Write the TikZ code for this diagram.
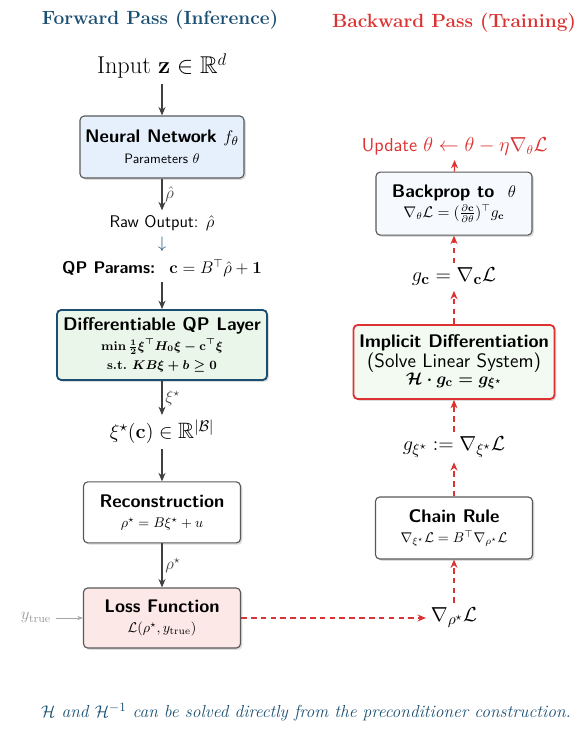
\documentclass[tikz,border=0pt]{standalone}
\usepackage{amsmath,amssymb}
\usetikzlibrary{arrows.meta,shadows}

\definecolor{azulosc}{HTML}{1B4F72}
\definecolor{rojo}{HTML}{DC3232}
\definecolor{fondoazul}{HTML}{E6F0FC}
\definecolor{fondoverde}{HTML}{EAF6EA}
\definecolor{fondoverde2}{HTML}{F2FAF2}
\definecolor{fondorosa}{HTML}{FDE8E8}
\definecolor{fondoblanco}{HTML}{F6F9FE}

% tamanos de letra
\newcommand{\titcaja}[1]{{\fontsize{13}{15.6}\selectfont\bfseries\sffamily #1}}
\newcommand{\grande}{\fontsize{15.8}{19}\selectfont}
\newcommand{\medio}{\fontsize{10.2}{12.2}\selectfont}

\begin{document}
\begin{tikzpicture}[
    font=\normalsize,
    caja/.style={rectangle, rounded corners=3pt, draw=black!65, line width=0.8pt, align=center, inner sep=3pt,
        drop shadow={opacity=0.28, shadow xshift=1.3pt, shadow yshift=-1.3pt}},
    tit/.style={font=\fontsize{13.6}{16}\selectfont\bfseries},
    etiq/.style={right, font=\large, inner sep=2pt},
    fwd/.style={-{Stealth[length=6pt,width=5pt]}, color=black!75, line width=0.9pt},
    bwd/.style={-{Stealth[length=6pt,width=5pt]}, color=rojo, line width=1pt, dash pattern=on 4pt off 3pt}
]
\useasboundingbox (0,0) rectangle (14.65,18.3);

% ============================================
% TITULOS
% ============================================
\node[tit, text=azulosc] (tforward) at (4.0, 17.8) {Forward Pass (Inference)};
\node[tit, text=rojo] (tbackward) at (11.35, 17.72) {Backward Pass (Training)};

% ============================================
% PASO HACIA ADELANTE
% ============================================

% Entrada
\node (input) at (4.05, 16.65) {\LARGE Input $\mathbf{z} \in \mathbb{R}^d$};

% Red neuronal
\node[caja, fill=fondoazul, minimum width=4.1cm, minimum height=1.55cm] (nn) at (4.05, 14.625)
    {\titcaja{Neural Network $f_\theta$}\\[3pt]{\fontsize{9.7}{11}\selectfont\sffamily Parameters $\theta$}};

% Salida cruda y parametros del QP
\node[font=\large\sffamily] (raw) at (4.05, 12.725) {Raw Output: $\hat{\rho}$};
\node[text=azulosc, inner sep=0pt] (flecha) at (4.05, 12.2) {\large$\downarrow$};
\node (params) at (4.05, 11.6) {{\large\bfseries\sffamily QP Params:}\quad{\large$\mathbf{c} = B^\top\hat{\rho} + \mathbf{1}$}};

% Capa QP
\node[caja, draw=azulosc, line width=1.3pt, fill=fondoverde, minimum width=5.25cm, minimum height=1.75cm] (qp) at (4.05, 9.675)
    {\titcaja{Differentiable QP Layer}\\[2pt]
     {\small\boldmath$\min \tfrac{1}{2}\xi^\top H_0\xi - \mathbf{c}^\top\xi$}\\[2pt]
     {\small\bfseries s.t.\ \boldmath$KB\xi + b \geq 0$}};

% Solucion
\node (xi) at (4.05, 7.5) {\grande$\xi^\star(\mathbf{c}) \in \mathbb{R}^{|\mathcal{B}|}$};

% Reconstruccion
\node[caja, fill=white, minimum width=3.925cm, minimum height=1.525cm] (recon) at (4.05, 5.49)
    {\titcaja{Reconstruction}\\[2pt]{\medio$\rho^\star = B\xi^\star + u$}};

% Perdida
\node[caja, fill=fondorosa, minimum width=3.925cm, minimum height=1.5cm] (loss) at (4.05, 2.85)
    {\titcaja{Loss Function}\\[2pt]{\medio$\mathcal{L}(\rho^\star, y_{\text{true}})$}};
\node[text=gray!80, font=\large] (ytrue) at (0.9, 2.85) {$y_{\text{true}}$};

% Flechas
\draw[fwd] (input) -- (nn);
\draw[fwd] (nn) -- node[etiq] {$\hat{\rho}$} (raw);
\draw[fwd] (params) -- (qp);
\draw[fwd] (qp) -- node[etiq] {$\xi^\star$} (xi);
\draw[fwd] (xi) -- (recon);
\draw[fwd] (recon) -- node[etiq] {$\rho^\star$} (loss);
\draw[-{Stealth[length=4pt]}, gray!70, line width=0.5pt] (ytrue) -- (loss);

% ============================================
% PASO HACIA ATRAS
% ============================================

% Gradiente de la perdida
\node (gradrho) at (11.35, 2.85) {\grande$\nabla_{\rho^\star}\mathcal{L}$};

% Regla de la cadena
\node[caja, fill=white, minimum width=3.925cm, minimum height=1.55cm] (chain) at (11.35, 5.1)
    {\titcaja{Chain Rule}\\[2pt]{\fontsize{10.4}{12.4}\selectfont$\nabla_{\xi^\star}\mathcal{L} = B^\top\nabla_{\rho^\star}\mathcal{L}$}};

\node (gxi) at (11.35, 7.125) {\grande$g_{\xi^\star} := \nabla_{\xi^\star}\mathcal{L}$};

% Diferenciacion implicita
\node[caja, draw=rojo, line width=1.3pt, fill=fondoverde2, minimum width=5.025cm, minimum height=1.85cm] (impl) at (11.35, 9.25)
    {\titcaja{Implicit Differentiation}\\
     {\fontsize{13.8}{15.5}\selectfont\sffamily (Solve Linear System)}\\
     {\fontsize{13}{15}\selectfont\boldmath$\mathcal{H}\cdot g_{\mathbf{c}} = g_{\xi^\star}$}};

\node (gc) at (11.35, 11.375) {\grande$g_{\mathbf{c}} = \nabla_{\mathbf{c}}\mathcal{L}$};

% Retropropagacion
\node[caja, fill=fondoblanco, minimum width=3.9cm, minimum height=1.575cm] (backprop) at (11.35, 13.21)
    {\titcaja{Backprop to\ \ $\theta$}\\[2pt]
     {\fontsize{10.6}{12.6}\selectfont$\nabla_\theta\mathcal{L} = (\tfrac{\partial\mathbf{c}}{\partial\theta})^\top g_{\mathbf{c}}$}};

\node[text=rojo, font=\fontsize{13.3}{16}\selectfont\sffamily] (update) at (11.37, 14.65) {Update $\theta \leftarrow \theta - \eta\nabla_\theta\mathcal{L}$};

% Flechas
\draw[bwd] (loss) -- (gradrho);
\draw[bwd] (gradrho) -- (chain);
\draw[bwd] (chain) -- (gxi);
\draw[bwd] (gxi) -- (impl);
\draw[bwd] (impl) -- (gc);
\draw[bwd] (gc) -- (backprop);
\draw[bwd] (backprop) -- (update);

% ============================================
% NOTA
% ============================================
\node[text=azulosc, font=\fontsize{12.4}{15}\selectfont\itshape] (nota) at (7.65, 0.5)
    {$\mathcal{H}$ and $\mathcal{H}^{-1}$ can be solved directly from the preconditioner construction.};

\end{tikzpicture}
\end{document}
